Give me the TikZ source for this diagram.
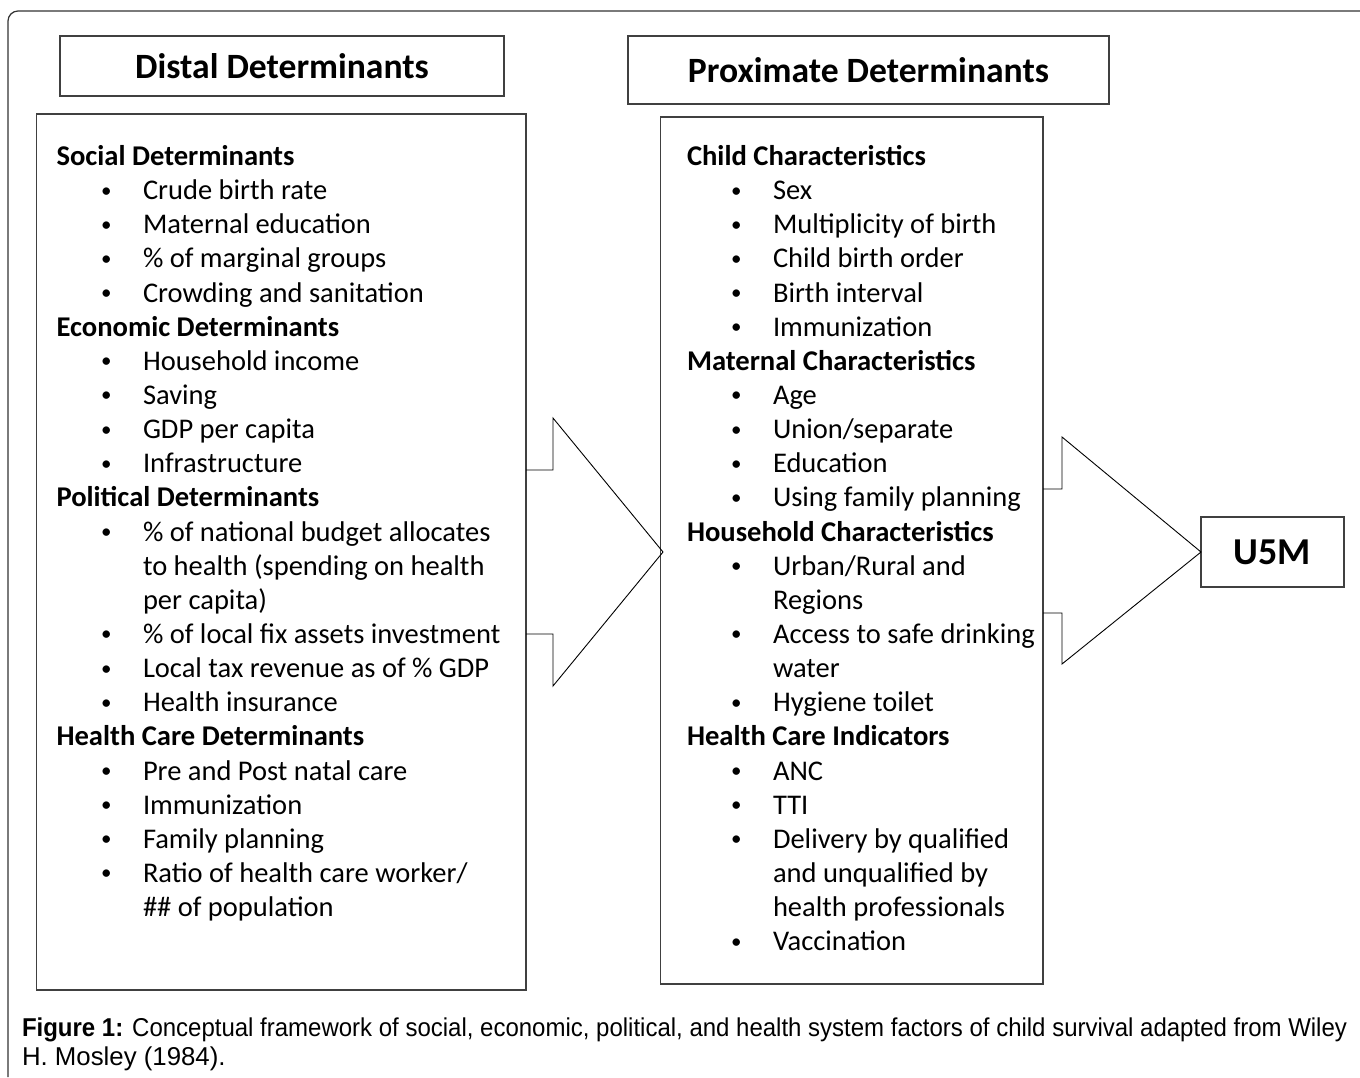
\documentclass[tikz,border=0pt]{standalone}
\usepackage{fontspec}
\setmainfont{Carlito}
\newfontfamily\capfont{Liberation Sans}
\begin{document}
\begin{tikzpicture}[x=0.5pt,y=-0.5pt,
  box/.style={draw=black!75,line width=0.65pt,inner sep=0pt,outer sep=0pt},
  hdr/.style={box,font=\fontsize{17.8}{21}\selectfont\bfseries},
  txt/.style={anchor=base west,inner sep=0pt,outer sep=0pt,font=\fontsize{14.25}{17}\selectfont},
  subhd/.style={txt,font=\fontsize{14.3}{17}\selectfont\bfseries},
  bul/.style={anchor=base west,inner sep=0pt,outer sep=0pt,font=\fontsize{10.5}{12}\selectfont},
  arrowshape/.style={draw=black,line width=0.45pt},
  captxt/.style={anchor=base west,inner sep=0pt,outer sep=0pt,font=\capfont\fontsize{12.9}{15}\selectfont}]
\useasboundingbox (0,0) rectangle (1360,1077);
% outer frame
\coordinate (fr1) at (8,1077);
\coordinate (fr2) at (8,11);
\coordinate (fr3) at (1360,11);
\draw[black!80,line width=0.6pt,rounded corners=5pt] (fr1) -- (fr2) -- (fr3);
% header boxes
\node[hdr,minimum width=222pt,minimum height=30pt] (distal) at (282,66) {Distal Determinants};
\node[hdr,minimum width=240.5pt,minimum height=34pt] (prox) at (868.5,70) {Proximate Determinants};
% content boxes
\node[box,minimum width=244.75pt,minimum height=438pt] (lbox) at (281.25,552) {};
\node[box,minimum width=191.25pt,minimum height=433.5pt] (rbox) at (851.75,550.5) {};
\node[hdr,font=\fontsize{19}{22}\selectfont\bfseries,minimum width=71.5pt,minimum height=35pt] (u5m) at (1272.5,552) {U5M};
% arrows
\coordinate (a1s) at (lbox.east |- 0,470);
\coordinate (a1e) at (lbox.east |- 0,634);
\draw[arrowshape] (a1s) -- (553,470) -- (553,418) -- (663,552) -- (553,686) -- (553,634) -- (a1e);
\coordinate (a2s) at (rbox.east |- 0,489);
\coordinate (a2e) at (rbox.east |- 0,613);
\draw[arrowshape] (a2s) -- (1062,489) -- (1062,437) -- (u5m.west) -- (1062,664) -- (1062,613) -- (a2e);
% text macros
\newcommand\lh[2]{\node[subhd] (lh#1) at (56.5,{165.5+34.14*#1}) {#2};}
\newcommand\lb[2]{\node[bul] (lbu#1) at (101,{163+34.14*#1}) {•};\node[txt] (lt#1) at (143,{165.5+34.14*#1}) {#2};}
\newcommand\lc[2]{\node[txt] (lt#1) at (143,{165.5+34.14*#1}) {#2};}
\newcommand\rh[2]{\node[subhd] (rh#1) at (687,{165.5+34.14*#1}) {#2};}
\newcommand\rb[2]{\node[bul] (rbu#1) at (731,{163+34.14*#1}) {•};\node[txt] (rt#1) at (773,{165.5+34.14*#1}) {#2};}
\newcommand\rc[2]{\node[txt] (rt#1) at (773,{165.5+34.14*#1}) {#2};}
% left column
\lh{0}{Social Determinants}
\lb{1}{Crude birth rate}
\lb{2}{Maternal education}
\lb{3}{\% of marginal groups}
\lb{4}{Crowding and sanitation}
\lh{5}{Economic Determinants}
\lb{6}{Household income}
\lb{7}{Saving}
\lb{8}{GDP per capita}
\lb{9}{Infrastructure}
\lh{10}{Political Determinants}
\lb{11}{\% of national budget allocates}
\lc{12}{to health (spending on health}
\lc{13}{per capita)}
\lb{14}{\% of local fix assets investment}
\lb{15}{Local tax revenue as of \% GDP}
\lb{16}{Health insurance}
\lh{17}{Health Care Determinants}
\lb{18}{Pre and Post natal care}
\lb{19}{Immunization}
\lb{20}{Family planning}
\lb{21}{Ratio of health care worker/}
\lc{22}{\#\# of population}
% right column
\rh{0}{Child Characteristics}
\rb{1}{Sex}
\rb{2}{Multiplicity of birth}
\rb{3}{Child birth order}
\rb{4}{Birth interval}
\rb{5}{Immunization}
\rh{6}{Maternal Characteristics}
\rb{7}{Age}
\rb{8}{Union/separate}
\rb{9}{Education}
\rb{10}{Using family planning}
\rh{11}{Household Characteristics}
\rb{12}{Urban/Rural and}
\rc{13}{Regions}
\rb{14}{Access to safe drinking}
\rc{15}{water}
\rb{16}{Hygiene toilet}
\rh{17}{Health Care Indicators}
\rb{18}{ANC}
\rb{19}{TTI}
\rb{20}{Delivery by qualified}
\rc{21}{and unqualified by}
\rc{22}{health professionals}
\rb{23}{Vaccination}
% caption
\node[captxt] (cap1) at (22,1036) {\resizebox{662.5pt}{\height}{\textbf{Figure 1:} Conceptual framework of social, economic, political, and health system factors of child survival adapted from Wiley}};
\node[captxt] (cap2) at (22,1065) {H. Mosley (1984).};
\end{tikzpicture}
\end{document}
